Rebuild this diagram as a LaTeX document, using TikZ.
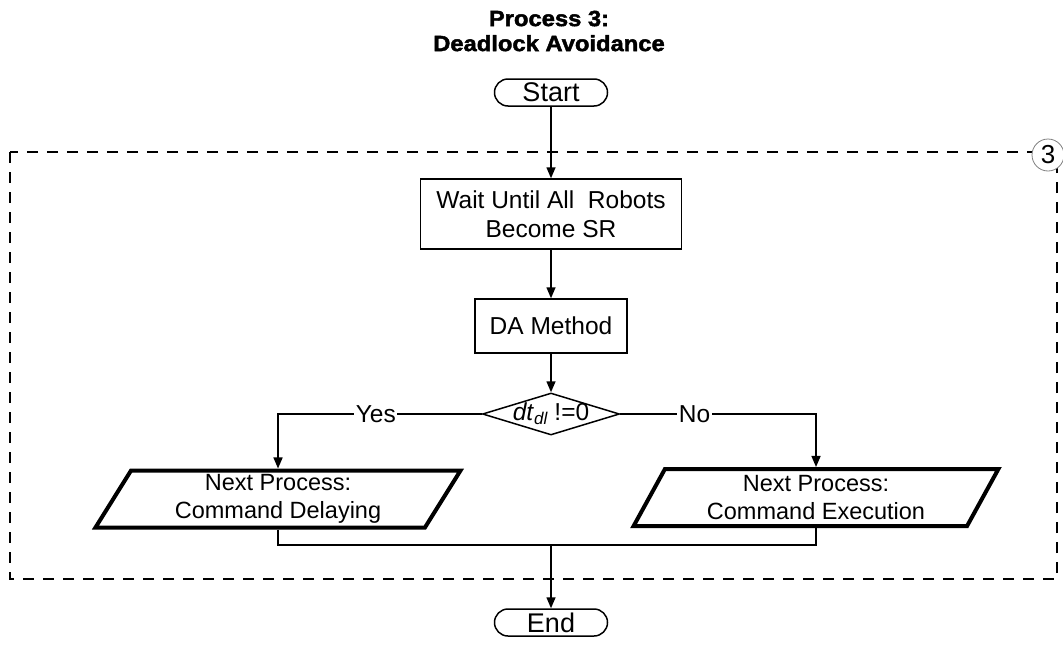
\documentclass[tikz,border=0pt]{standalone}
\usepackage{fontspec}
\setmainfont{Liberation Sans}
\newfontfamily\headfont[FakeStretch=1.08,FakeBold=2]{Liberation Sans Bold}
\usetikzlibrary{shapes.geometric,arrows.meta}

\begin{document}
\begin{tikzpicture}[x=1pt,y=-1pt,
	every node/.style={inner sep=0pt,font=\fontsize{24.5}{29.5}\selectfont},
	flow/.style={line width=1.5pt},
	arr/.style={flow,-{Triangle[length=11pt,width=9pt]}},
	term/.style={draw,line width=1.5pt,rounded corners=13.5pt,minimum width=113pt,minimum height=27pt,font=\fontsize{27}{30}\selectfont},
	proc/.style={draw,line width=1.5pt,align=center},
	iobox/.style={draw,trapezium,trapezium left angle=63,trapezium right angle=117,trapezium stretches=true,
		line width=4pt,minimum width=366pt,minimum height=57pt,align=center,font=\fontsize{23.5}{28}\selectfont},
	answer/.style={fill=white,inner sep=1.5pt}]
	\useasboundingbox (0,0) rectangle (1063,648);
	% process frame
	\draw [line width=1.5pt,dash pattern=on 11pt off 9pt] (10,152) rectangle (1057,579);
	\node [circle,draw=gray,fill=white,line width=0.8pt,minimum size=32pt,font=\fontsize{26}{26}\selectfont] (tag) at (1048,155) {3};
	\node [font=\headfont\fontsize{22}{25}\selectfont,align=center] (title) at (549,31) {Process 3:\\Deadlock Avoidance};
	% flow
	\node [term] (start) at (551,92.5) {Start};
	\node [proc,minimum width=261pt,minimum height=70pt] (wait) at (551,214) {Wait Until All\ \ Robots\\Become SR};
	\node [proc,minimum width=152pt,minimum height=54pt] (da) at (551,326) {DA Method};
	\node [draw,diamond,line width=1.5pt,minimum width=137pt,minimum height=42pt,
		label=center:{\textit{dt}\raisebox{-4pt}{\fontsize{17}{17}\selectfont\textit{dl}} !=0}] (dec) at (551,414) {};
	\node [iobox] (delay) at (278,499) {Next Process:\\Command Delaying};
	\node [iobox] (exec) at (816,497.5) {Next Process:\\Command Execution};
	\node [term] (end) at (551,622.5) {End};
	\coordinate (join) at (551,545);
	\draw [arr] (start) -- (wait);
	\draw [arr] (wait) -- (da);
	\draw [arr] (da) -- (dec);
	\draw [arr] (dec.west) -| node [answer,pos=0.26] {Yes} (delay.north);
	\draw [arr] (dec.east) -| node [answer,pos=0.19] {No} (exec.north);
	\draw [flow] (delay.south) |- (join);
	\draw [flow] (exec.south) |- (join);
	\draw [arr] (join) -- (end);
\end{tikzpicture}
\end{document}
